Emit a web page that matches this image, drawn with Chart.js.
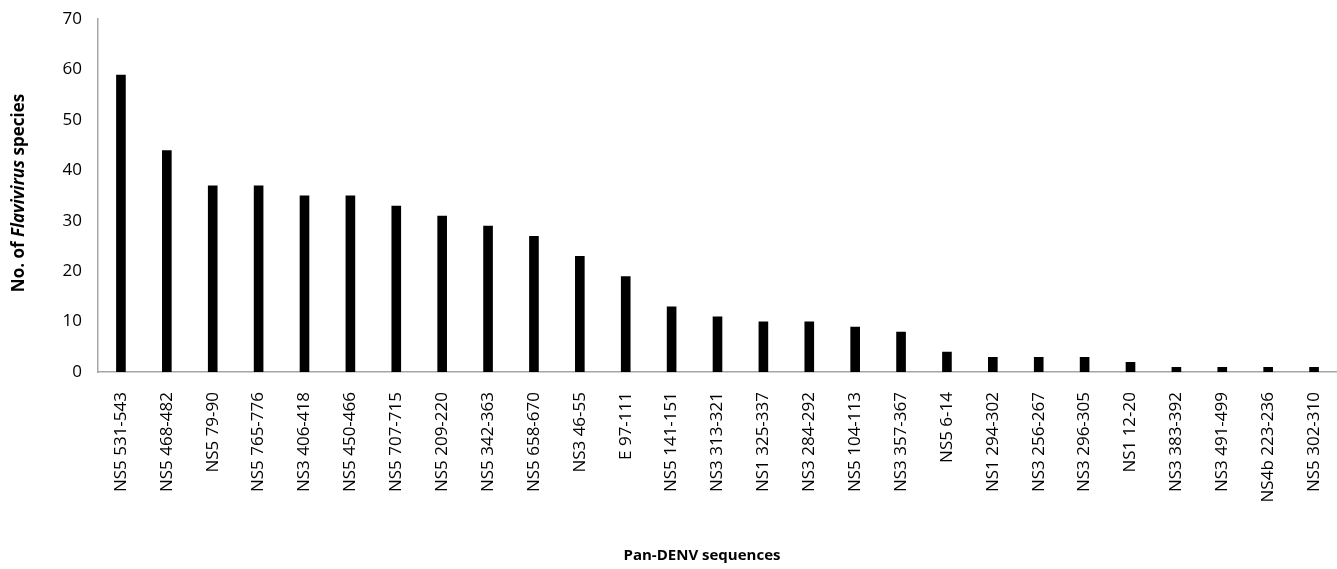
<!DOCTYPE html>
<html lang="en">
  <head>
    <meta charset="UTF-8" />
    <title>Pan-DENV sequences</title>
    <script src="https://cdn.jsdelivr.net/npm/chart.js"></script>
    <style>
      html, body { margin: 0; padding: 0; background: #fff; }
      #wrap { width: 1337px; height: 569px; }
    </style>
  </head>
  <body>
    <div id="wrap"><canvas id="myChart"></canvas></div>
  </body>
  <script>
    const sequences = [
      "NS5 531-543", "NS5 468-482", "NS5 79-90", "NS5 765-776", "NS3 406-418",
      "NS5 450-466", "NS5 707-715", "NS5 209-220", "NS5 342-363", "NS5 658-670",
      "NS3 46-55", "E 97-111", "NS5 141-151", "NS3 313-321", "NS1 325-337",
      "NS3 284-292", "NS5 104-113", "NS3 357-367", "NS5 6-14", "NS1 294-302",
      "NS3 256-267", "NS3 296-305", "NS1 12-20", "NS3 383-392", "NS3 491-499",
      "NS4b 223-236", "NS5 302-310"
    ];
    const speciesCount = [
      59, 44, 37, 37, 35, 35, 33, 31, 29, 27, 23, 19, 13, 11, 10, 10, 9, 8, 4, 3, 3, 3, 2, 1, 1, 1, 1
    ];
    const yTitleParts = [["No. of ", "bold"], ["Flavivirus", "italic bold"], [" species", "bold"]];
    const xTitle = "Pan-DENV sequences";

    const FONT = "'Open Sans', sans-serif";

    // axis titles drawn by hand (italic genus name, off-centre x title)
    const titlesPlugin = {
      id: "titles",
      afterDraw(chart) {
        const c = chart.ctx;
        c.save();
        c.fillStyle = "#000";
        c.textBaseline = "middle";
        let total = 0;
        yTitleParts.forEach(([t, st]) => {
          c.font = st + " 17px " + FONT;
          total += c.measureText(t).width;
        });
        c.translate(19, 193);
        c.rotate(-Math.PI / 2);
        let x = -total / 2;
        yTitleParts.forEach(([t, st]) => {
          c.font = st + " 17px " + FONT;
          c.fillText(t, x, 0);
          x += c.measureText(t).width;
        });
        c.restore();

        c.save();
        c.fillStyle = "#000";
        c.font = "bold 15px " + FONT;
        c.textAlign = "center";
        c.textBaseline = "middle";
        c.fillText(xTitle, 702, 556);
        c.restore();
      },
    };

    new Chart(document.getElementById("myChart"), {
      type: "bar",
      data: {
        labels: sequences,
        datasets: [
          {
            data: speciesCount,
            backgroundColor: "#000",
            barPercentage: 0.21,
            categoryPercentage: 1,
          },
        ],
      },
      options: {
        responsive: true,
        maintainAspectRatio: false,
        animation: false,
        layout: { padding: { top: 14, right: 0, left: 0, bottom: 0 } },
        plugins: { legend: { display: false }, tooltip: { enabled: false } },
        scales: {
          x: {
            afterFit(s) {
              s.height = 197;
              s.paddingRight = 0;
              s.paddingLeft = 0;
            },
            grid: { display: false, drawTicks: false },
            border: { color: "#a6a6a6", width: 1.5 },
            ticks: {
              minRotation: 90,
              maxRotation: 90,
              autoSkip: false,
              padding: 20,
              color: "#000",
              font: { family: FONT, size: 17 },
            },
          },
          y: {
            min: 0,
            max: 70,
            afterFit(s) { s.width = 98; },
            grid: { display: false, drawOnChartArea: false, drawTicks: true, tickLength: 7, color: "#a6a6a6" },
            border: { color: "#a6a6a6", width: 1.5 },
            ticks: {
              stepSize: 10,
              padding: 9,
              color: "#000",
              font: { family: FONT, size: 17 },
            },
          },
        },
      },
      plugins: [titlesPlugin],
    });
  </script>
</html>
